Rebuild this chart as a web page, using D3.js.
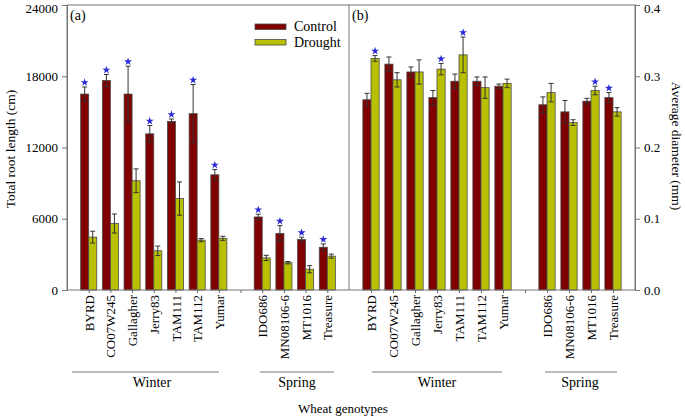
<!DOCTYPE html>
<html>
<head>
<meta charset="utf-8">
<script src="https://cdn.jsdelivr.net/npm/d3@7"></script>
<style>
body{margin:0;background:#fff;}
svg{display:block;font-family:"Liberation Serif","Times New Roman",serif;}
</style>
</head>
<body>
<svg id="chart" width="685" height="418"></svg>
<script>
// ---- data ----
const winter = ["BYRD","CO07W245","Gallagher","Jerry83","TAM111","TAM112","Yumar"];
const spring = ["IDO686","MN08106-6","MT1016","Treasure"];
const genotypes = winter.concat(spring);
const slots = winter.concat(["gap"], spring);

const rootControl    = [16500,17650,16500,13150,14200,14850,9700, 6150,4750,4250,3600];
const rootControlErr = [600,  500,  2350, 700,  200,  2450, 450,  230, 670, 200, 280];
const rootDrought    = [4450, 5600, 9200, 3300, 7700, 4200, 4350, 2700,2300,1750,2850];
const rootDroughtErr = [500,  800,  1000, 400,  1400, 130,  170,  220, 100, 300, 170];
const rootSigControl = [1,1,1,1,1,1,1, 1,1,1,1];
const rootSigDrought = [0,0,0,0,0,0,0, 0,0,0,0];

const diamControl    = [0.267,0.317,0.306,0.270,0.293,0.293,0.286, 0.260,0.250,0.265,0.270];
const diamControlErr = [0.009,0.010,0.007,0.010,0.010,0.006,0.003, 0.011,0.016,0.004,0.007];
const diamDrought    = [0.325,0.295,0.306,0.310,0.330,0.284,0.290, 0.277,0.235,0.280,0.250];
const diamDroughtErr = [0.004,0.010,0.017,0.008,0.025,0.015,0.006, 0.013,0.004,0.006,0.006];
const diamSigControl = [0,0,0,0,0,0,0, 0,0,0,1];
const diamSigDrought = [1,0,0,1,1,0,0, 0,0,1,0];

const rootTicks = [0,6000,12000,18000,24000];
const diamTicks = [0,0.1,0.2,0.3,0.4];

const seriesNames = ["Control","Drought"];
const colors = {Control:"#800000", Drought:"#b8c000"};

// ---- layout ----
const svg = d3.select("#chart");
const plotTop = 5, plotBottom = 290;
const leftX0 = 67, midX = 349, rightX1 = 635;
const font = 13;

const yRoot = d3.scaleLinear().domain([0,24000]).range([plotBottom, plotTop]);
const yDiam = d3.scaleLinear().domain([0,0.4]).range([plotBottom, plotTop]);
const xA = d3.scalePoint().domain(slots).range([leftX0, midX]).padding(1);
const xB = d3.scalePoint().domain(slots).range([midX, rightX1]).padding(1);

function panel(x, y, ctrl, ctrlErr, drt, drtErr, sigC, sigD) {
  const bw = x.step()*0.37;
  const g = svg.append("g");
  const rows = genotypes.map((name,i)=>({name,i}));
  const series = [
    {key:"Control", vals:ctrl, errs:ctrlErr, sig:sigC, off:-bw},
    {key:"Drought", vals:drt, errs:drtErr, sig:sigD, off:0}
  ];
  series.forEach(s=>{
    const sg = g.append("g");
    sg.selectAll("rect").data(rows).join("rect")
      .attr("x", d=>x(d.name)+s.off)
      .attr("y", d=>y(s.vals[d.i]))
      .attr("width", bw)
      .attr("height", d=>y(0)-y(s.vals[d.i]))
      .attr("fill", colors[s.key])
      .attr("stroke", "#4a4a4a").attr("stroke-width", 0.8);
    const eg = sg.append("g").attr("stroke","#333").attr("stroke-width",1);
    rows.forEach(d=>{
      const cx = x(d.name)+s.off+bw/2;
      const y1 = y(s.vals[d.i]+s.errs[d.i]), y2 = y(s.vals[d.i]-s.errs[d.i]);
      eg.append("line").attr("x1",cx).attr("x2",cx).attr("y1",y1).attr("y2",y2);
      eg.append("line").attr("x1",cx-2.5).attr("x2",cx+2.5).attr("y1",y1).attr("y2",y1);
      eg.append("line").attr("x1",cx-2.5).attr("x2",cx+2.5).attr("y1",y2).attr("y2",y2);
      if (s.sig[d.i]) {
        sg.append("path")
          .attr("d", d3.symbol(d3.symbolStar, 20)())
          .attr("transform", `translate(${cx},${y1-4.5})`)
          .attr("fill","#2a2ad8");
      }
    });
  });
  // x axis ticks + labels
  const ax = svg.append("g").attr("transform",`translate(0,${plotBottom})`)
    .call(d3.axisBottom(x).tickSize(3).tickFormat(d=>d==="gap"?"":d));
  ax.select(".domain").remove();
  ax.selectAll(".tick line").attr("stroke","#666");
  ax.selectAll(".tick text")
    .attr("transform","rotate(-90)")
    .attr("text-anchor","end")
    .attr("x",-5).attr("y",0).attr("dy","0.35em")
    .attr("fill","#000")
    .style("font-family","'Liberation Serif', 'Times New Roman', serif")
    .style("font-size", font+"px");
}

panel(xA, yRoot, rootControl, rootControlErr, rootDrought, rootDroughtErr, rootSigControl, rootSigDrought);
panel(xB, yDiam, diamControl, diamControlErr, diamDrought, diamDroughtErr, diamSigControl, diamSigDrought);

// frame
svg.append("rect").attr("x",leftX0).attr("y",plotTop).attr("width",rightX1-leftX0).attr("height",plotBottom-plotTop)
  .attr("fill","none").attr("stroke","#777").attr("stroke-width",1);
svg.append("line").attr("x1",midX).attr("x2",midX).attr("y1",plotTop).attr("y2",plotBottom)
  .attr("stroke","#777").attr("stroke-width",1);

// y axes
const axL = svg.append("g").attr("transform",`translate(${leftX0},0)`)
  .call(d3.axisLeft(yRoot).tickValues(rootTicks).tickSize(5).tickPadding(4).tickFormat(d3.format("d")));
const axR = svg.append("g").attr("transform",`translate(${rightX1},0)`)
  .call(d3.axisRight(yDiam).tickValues(diamTicks).tickSize(5).tickPadding(4).tickFormat(d3.format(".1f")));
[axL,axR].forEach(a=>{
  a.select(".domain").attr("stroke","#777");
  a.selectAll(".tick line").attr("stroke","#777");
  a.selectAll(".tick text").attr("fill","#000")
    .attr("dy", (d,i,n)=> i===n.length-1 ? "0.55em" : "0.32em")
    .style("font-family","'Liberation Serif', 'Times New Roman', serif").style("font-size",font+"px");
});

// axis titles
svg.append("text").attr("transform","translate(15,149) rotate(-90)")
  .attr("text-anchor","middle").style("font-size","13.5px").text("Total root length (cm)");
svg.append("text").attr("transform","translate(672,146) rotate(90)")
  .attr("text-anchor","middle").style("font-size","13.5px").text("Average diameter (mm)");
svg.append("text").attr("x",343).attr("y",413).attr("text-anchor","middle")
  .style("font-size","13px").text("Wheat genotypes");

// panel labels
svg.append("text").attr("x",70).attr("y",20).style("font-size","14px").text("(a)");
svg.append("text").attr("x",352).attr("y",20).style("font-size","14px").text("(b)");

// legend
seriesNames.forEach((n,i)=>{
  const ly = 24 + i*15.5;
  svg.append("rect").attr("x",255).attr("y",ly).attr("width",31).attr("height",5.5)
    .attr("fill",colors[n]).attr("stroke","#4a4a4a").attr("stroke-width",0.8);
  svg.append("text").attr("x",294).attr("y",ly+7).style("font-size","14px").text(n);
});

// group brackets
const groups = [
  {name:"Winter", x1:72,  x2:219, tx:152},
  {name:"Spring", x1:260, x2:334, tx:297},
  {name:"Winter", x1:372, x2:502, tx:437},
  {name:"Spring", x1:545, x2:617, tx:580}
];
groups.forEach(gr=>{
  svg.append("line").attr("x1",gr.x1).attr("x2",gr.x2).attr("y1",372).attr("y2",372)
    .attr("stroke","#777").attr("stroke-width",1);
  svg.append("text").attr("x",gr.tx).attr("y",387).attr("text-anchor","middle")
    .style("font-size","14px").text(gr.name);
});
</script>
</body>
</html>
